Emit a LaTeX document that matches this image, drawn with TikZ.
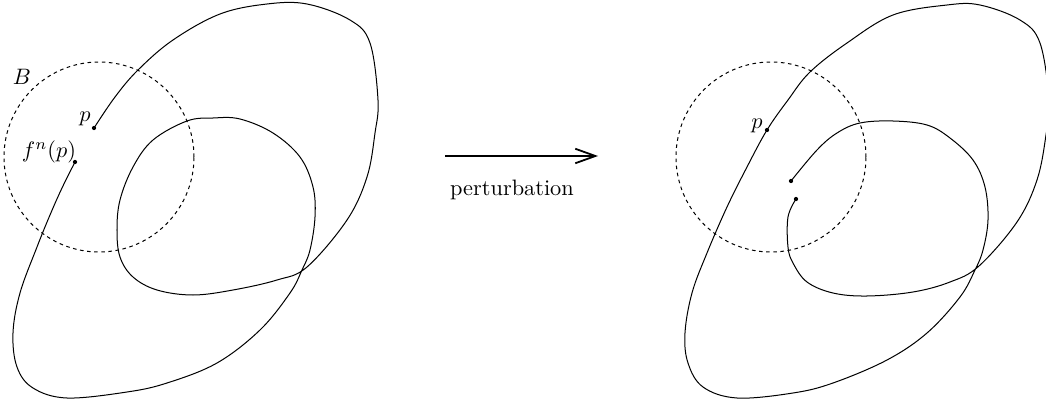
\documentclass[tikz,border=0pt]{standalone}
\usetikzlibrary{arrows.meta}
\begin{document}
\begin{tikzpicture}[x=0.448pt,y=-0.448pt,
  curve/.style={line width=0.45pt},
  ball/.style={line width=0.45pt,dash pattern=on 1.6pt off 1.6pt},
  dot/.style={fill=black},
  lab/.style={inner sep=0pt,font=\normalsize}]
\useasboundingbox (0,0) rectangle (1046,408);
% left
\coordinate (p1) at (94,128);
\coordinate (q1) at (75,162);
\draw[ball] (99,157) circle [radius=95*0.448pt];
\draw[curve] plot[smooth,tension=0.6] coordinates {
 (94,128) (115,97) (138,70) (173,40) (220,14) (267,4) (307,4) (350,20) (370,43)
 (378,100) (375,133) (367,177) (347,220) (307,267) (277,280) (233,290) (193,295)
 (157,290) (133,277) (120,257) (117,230) (120,200) (133,167) (153,140) (187,121)
 (213,118) (240,119) (273,133) (300,157) (313,187) (315,217) (310,250) (302,270)
 (290,293) (260,330) (217,363) (167,383) (127,392) (67,398) (33,388) (17,367)
 (13,333) (20,293) (37,247) (50,215) (62,188) (75,162)};
\fill[dot] (p1) circle [radius=0.95pt];
\fill[dot] (q1) circle [radius=0.95pt];
\node[lab] (B) at (22,77) {$B$};
\node[lab] (pl) at (85,119) {$p$};
\node[lab] (fl) at (49,152) {$f^n(p)$};
% arrow
\coordinate (a1) at (445,156);
\coordinate (a2) at (598,156);
\draw[line width=0.8pt,-{Straight Barb[length=9pt,width=6.5pt,line width=0.8pt]}] (a1) -- (a2);
\node[lab] (pert) at (512,190) {perturbation};
% right
\coordinate (p2) at (767,130);
\coordinate (e1) at (791,181);
\coordinate (e2) at (796,199);
\draw[ball] (771,157) circle [radius=95*0.448pt];
\draw[curve] plot[smooth,tension=0.6] coordinates {
 (791,181) (817,150) (837,133) (860,123) (893,121) (927,125) (950,138) (973,160)
 (985,187) (988,220) (983,250) (975,270) (960,297) (927,333) (887,360) (833,383)
 (793,393) (737,398) (703,387) (688,363) (685,333) (692,293) (707,253) (727,207)
 (747,167) (767,130) (788,100) (810,72) (847,43) (893,15) (947,5) (980,5) (1020,20)
 (1040,43) (1049,100) (1046,135) (1037,180) (1017,222) (979,266) (950,282) (913,292)
 (867,296) (833,293) (807,282) (793,263) (788,247) (788,217) (796,199)};
\fill[dot] (p2) circle [radius=0.95pt];
\fill[dot] (e1) circle [radius=0.95pt];
\fill[dot] (e2) circle [radius=0.95pt];
\node[lab] (pr) at (757,126) {$p$};
\end{tikzpicture}
\end{document}
